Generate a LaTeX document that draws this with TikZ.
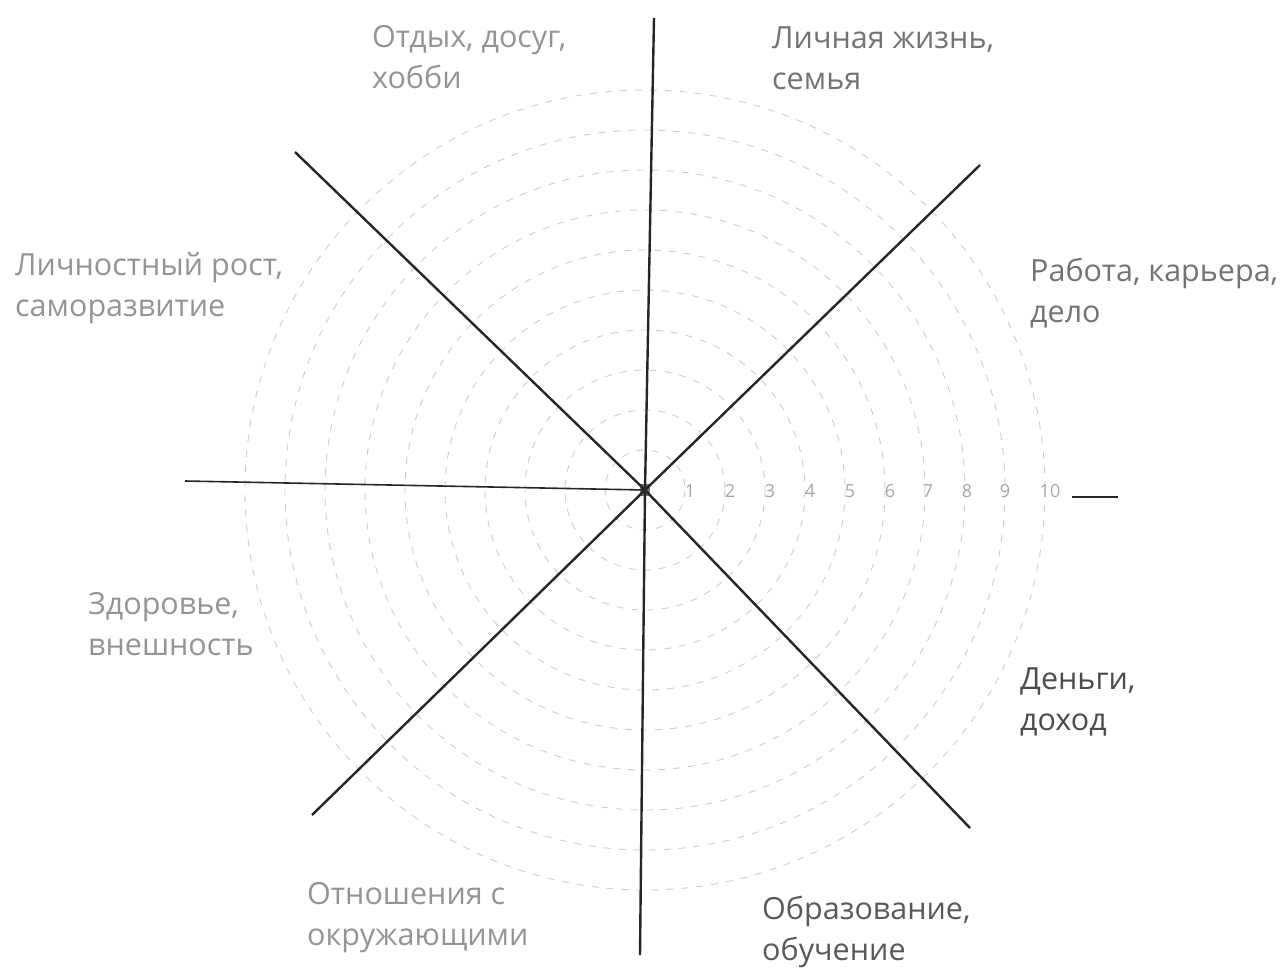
\documentclass[tikz,border=0pt]{standalone}
\usepackage{fontspec}
\setmainfont{Open Sans}
\begin{document}
\begin{tikzpicture}[x=1pt,y=-1pt,
  axis/.style={line width=2.4pt,black!85},
  ring/.style={gray!40,line width=0.9pt,dash pattern=on 7pt off 8pt},
  lbl/.style={anchor=base west,align=left,inner sep=0pt,font=\fontsize{30.5}{41}\selectfont,text=black!55},
  lbllight/.style={lbl,text=black!42},
  num/.style={font=\fontsize{18}{18}\selectfont,text=black!35,inner sep=0pt}]
\useasboundingbox (0,0) rectangle (1287,967);
% concentric rings
\foreach \k in {1,...,10}{
  \draw[ring] (645,490) circle ({40*\k});
}
% centre
\node[fill=black!55,minimum width=10pt,minimum height=12pt,inner sep=0pt] (O) at (645,490) {};
% axis end points
\coordinate (N) at (654,18);
\coordinate (S) at (640,955);
\coordinate (NW) at (295,152);
\coordinate (SE) at (970,828);
\coordinate (NE) at (980,165);
\coordinate (SW) at (312,815);
\coordinate (W) at (185,481);
\coordinate (E1) at (1072,497);
\coordinate (E2) at (1118,497);
\draw[axis] (N) -- (O.center) -- (S);
\draw[axis] (NW) -- (O.center) -- (SE);
\draw[axis] (NE) -- (O.center) -- (SW);
\draw[axis,line width=1.6pt] (W) -- (O.center);
\draw[axis] (E1) -- (E2);
% scale numbers
\foreach \i/\x in {1/690,2/730,3/770,4/810,5/850,6/890,7/928,8/967,9/1005,10/1050}{
  \node[num] (n\i) at (\x,491) {\i};
}
% labels (anchor = baseline of the second line)
\node[lbllight] (l1) at (372,88) {Отдых, досуг,\\хобби};
\node[lbl] (l2) at (772,89) {Личная жизнь,\\семья};
\node[lbl] (l3) at (1030,322) {Работа, карьера,\\дело};
\node[lbllight] (l4) at (15,316) {Личностный рост,\\саморазвитие};
\node[lbllight] (l5) at (88,655) {Здоровье,\\внешность};
\node[lbl,text=black!70] (l6) at (1020,730) {Деньги,\\доход};
\node[lbllight] (l7) at (307,945) {Отношения с\\окружающими};
\node[lbl,text=black!65] (l8) at (762,960) {Образование,\\обучение};
\end{tikzpicture}
\end{document}
